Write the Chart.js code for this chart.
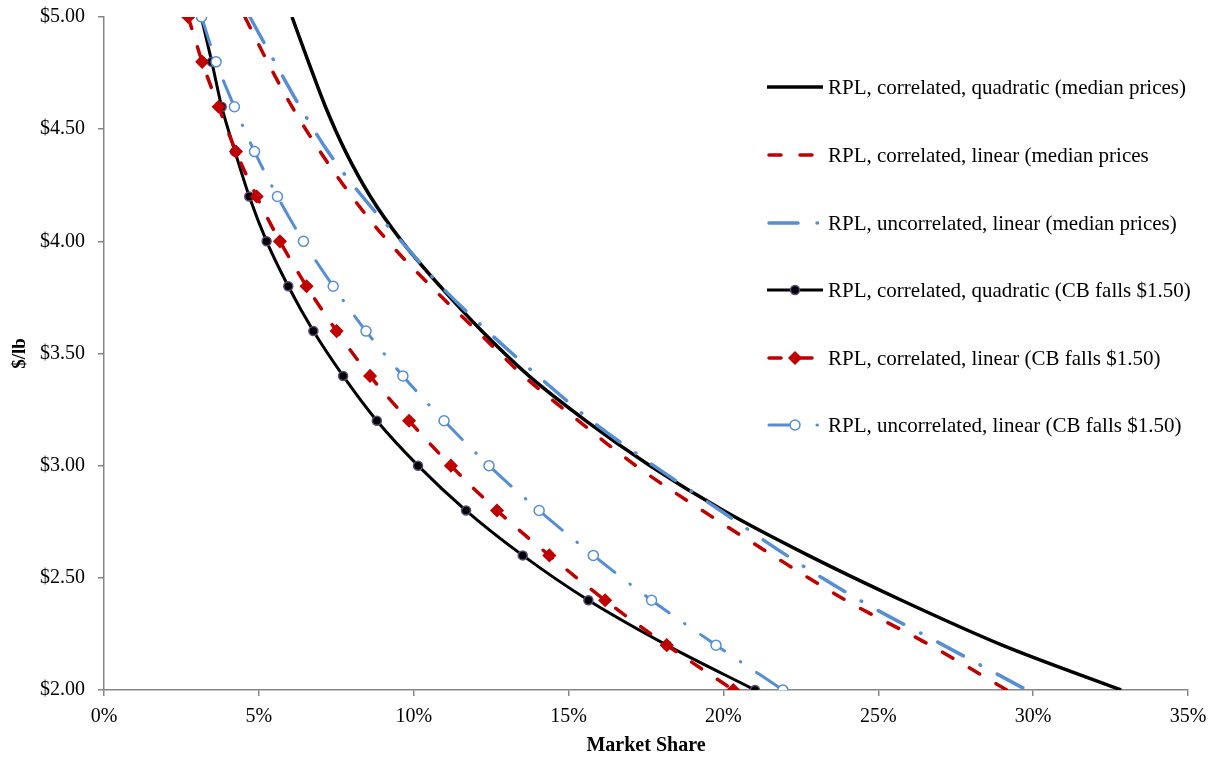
<!DOCTYPE html>
<html>
<head>
<meta charset="utf-8">
<script src="https://cdn.jsdelivr.net/npm/chart.js@4.4.1/dist/chart.umd.min.js"></script>
<style>
  html, body { margin: 0; padding: 0; background: #fff; }
  #chart { display: block; }
</style>
</head>
<body>
<canvas id="chart" width="1212" height="759"></canvas>
<script>
// price levels ($/lb), shared by all series
const prices = [5.0, 4.8, 4.6, 4.4, 4.2, 4.0, 3.8, 3.6, 3.4, 3.2, 3.0, 2.8, 2.6, 2.4, 2.2, 2.0];

// market share (%)
const corrQuadMedian   = [6.07, 6.60, 7.15, 7.80, 8.60, 9.62, 10.85, 12.20, 13.72, 15.56, 17.63, 20.00, 22.74, 25.75, 29.00, 32.84];
const corrLinMedian    = [4.55, 5.28, 6.07, 6.98, 8.00, 9.17, 10.55, 12.05, 13.55, 15.32, 17.17, 19.32, 21.59, 23.95, 26.67, 29.15];
const uncorrLinMedian  = [4.71, 5.51, 6.33, 7.23, 8.34, 9.60, 10.88, 12.38, 14.01, 15.74, 17.75, 19.90, 22.04, 24.40, 27.10, 29.79];
const corrQuadCB       = [3.14, 3.48, 3.80, 4.23, 4.69, 5.25, 5.95, 6.76, 7.72, 8.81, 10.14, 11.69, 13.52, 15.64, 18.17, 21.02];
const corrLinCB        = [2.72, 3.17, 3.70, 4.26, 4.93, 5.68, 6.54, 7.51, 8.59, 9.85, 11.20, 12.69, 14.38, 16.18, 18.17, 20.32];
const uncorrLinCB      = [3.15, 3.62, 4.21, 4.86, 5.60, 6.44, 7.40, 8.46, 9.65, 10.98, 12.43, 14.05, 15.80, 17.68, 19.76, 21.92];

const labels = [
  "RPL, correlated, quadratic (median prices)",
  "RPL, correlated, linear (median prices",
  "RPL, uncorrelated, linear (median prices)",
  "RPL, correlated, quadratic (CB falls $1.50)",
  "RPL, correlated, linear (CB falls $1.50)",
  "RPL, uncorrelated, linear (CB falls $1.50)"
];

const BLACK = '#000000';
const RED = '#c00000';
const BLUE = '#558ed5';
const DASH = [12, 19];
const DASHDOT = [29, 19, 0.5, 19];

function pts(xs) {
  return xs.map((v, i) => ({ x: v, y: prices[i] }));
}

const series = [
  { data: corrQuadMedian, color: BLACK, width: 3.5, dash: [], marker: null },
  { data: corrLinMedian, color: RED, width: 3.5, dash: DASH, marker: null },
  { data: uncorrLinMedian, color: BLUE, width: 3.5, dash: DASHDOT, marker: null },
  { data: corrQuadCB, color: BLACK, width: 3, dash: [], marker: 'circle', radius: 4.5, fill: '#000', edge: '#5f497a' },
  { data: corrLinCB, color: RED, width: 3.5, dash: DASH, marker: 'rectRot', radius: 6, fill: RED, edge: RED },
  { data: uncorrLinCB, color: BLUE, width: 3, dash: DASHDOT, marker: 'circle', radius: 5, fill: '#fff', edge: BLUE }
];

const datasets = series.map((s, i) => ({
  label: labels[i],
  data: pts(s.data),
  showLine: true,
  borderColor: s.color,
  borderWidth: s.width,
  borderDash: s.dash,
  borderCapStyle: s.dash.length ? 'round' : 'butt',
  cubicInterpolationMode: 'monotone',
  pointStyle: s.marker || 'circle',
  pointRadius: s.marker ? s.radius : 0,
  pointBackgroundColor: s.fill,
  pointBorderColor: s.edge,
  pointBorderWidth: 1.5,
  order: 6 - i
}));

// legend drawn inside the plot, like the original
const legendPlugin = {
  id: 'sideLegend',
  afterDraw(chart) {
    const ctx = chart.ctx;
    const x0 = 767, x1 = 823, tx = 828;
    const rowY = [87, 155, 223, 290, 358, 425];
    series.forEach((s, i) => {
      const y = rowY[i];
      ctx.save();
      ctx.strokeStyle = s.color;
      ctx.lineWidth = s.width;
      ctx.setLineDash(s.dash);
      ctx.lineCap = s.dash.length ? 'round' : 'butt';
      ctx.beginPath();
      ctx.moveTo(x0 + (s.dash.length ? 2 : 0), y);
      ctx.lineTo(x1 - (s.dash.length ? 2 : 0), y);
      ctx.stroke();
      ctx.setLineDash([]);
      if (s.marker) {
        ctx.fillStyle = s.fill;
        ctx.strokeStyle = s.edge;
        ctx.lineWidth = 1.5;
        Chart.helpers.drawPoint(ctx, { pointStyle: s.marker, radius: s.radius, borderWidth: 1.5 }, 795, y);
      }
      ctx.fillStyle = '#000';
      ctx.font = '21px "Liberation Serif"';
      ctx.textBaseline = 'middle';
      ctx.textAlign = 'left';
      ctx.fillText(labels[i], tx, y + 1);
      ctx.restore();
    });
  }
};

const axisGrey = '#868686';

new Chart(document.getElementById('chart'), {
  type: 'scatter',
  data: { datasets },
  options: {
    responsive: false,
    animation: false,
    devicePixelRatio: 1,
    layout: { padding: { left: 0, right: 24, top: 17, bottom: 0 } },
    plugins: { legend: { display: false }, tooltip: { enabled: false } },
    scales: {
      x: {
        type: 'linear', min: 0, max: 35,
        afterFit: (s) => { s.height = 69; s.paddingLeft = 0; s.paddingRight = 0; },
        border: { color: axisGrey, width: 1.5 },
        grid: { drawOnChartArea: false, drawTicks: true, tickLength: 6, color: axisGrey, lineWidth: 1.5 },
        ticks: { stepSize: 5, color: '#000', padding: 9, font: { family: 'Liberation Serif', size: 20 }, callback: v => v + '%' },
        title: { display: true, text: 'Market Share', color: '#000', padding: { top: 0, bottom: 1 },
                 font: { family: 'Liberation Serif', size: 20, weight: 'bold' } }
      },
      y: {
        type: 'linear', min: 2, max: 5,
        afterFit: (s) => { s.width = 104; s.paddingTop = 0; s.paddingBottom = 0; },
        border: { color: axisGrey, width: 1.5 },
        grid: { drawOnChartArea: false, drawTicks: true, tickLength: 6, color: axisGrey, lineWidth: 1.5 },
        ticks: { stepSize: 0.5, color: '#000', padding: 13, font: { family: 'Liberation Serif', size: 20 }, callback: v => '$' + v.toFixed(2) },
        title: { display: true, text: '$/lb', color: '#000', padding: { top: 9, bottom: 0 },
                 font: { family: 'Liberation Serif', size: 19, weight: 'bold' } }
      }
    }
  },
  plugins: [legendPlugin]
});
</script>
</body>
</html>
